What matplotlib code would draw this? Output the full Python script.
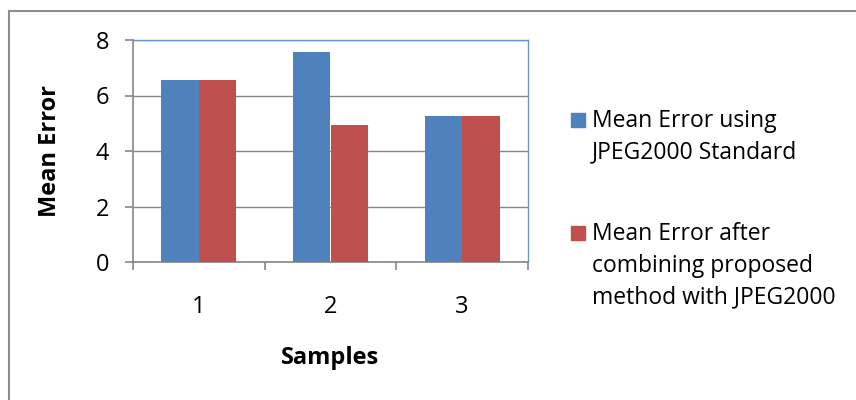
import matplotlib
matplotlib.use("Agg")
import matplotlib.pyplot as plt
from matplotlib.patches import Rectangle
import numpy as np

samples = ["1", "2", "3"]
series_names = [["Mean Error using", "JPEG2000 Standard"],
                ["Mean Error after", "combining proposed", "method with JPEG2000"]]
err_jpeg2000 = [6.56, 7.57, 5.25]
err_combined = [6.56, 4.93, 5.25]
yticks = [0, 2, 4, 6, 8]

blue = "#4F81BD"
red = "#C0504D"
grey = "#868686"

plt.rcParams['font.family'] = ['Open Sans', 'DejaVu Sans']

W, H = 856, 400
fig = plt.figure(figsize=(W / 100, H / 100), dpi=100)
ax = fig.add_axes([133 / W, 1 - 262 / H, (528 - 133) / W, (262 - 40) / H])

x = np.arange(len(samples))
w = 1 / 3.5
ax.bar(x - w / 2, err_jpeg2000, w, color=blue, zorder=3)
ax.bar(x + w / 2, err_combined, w, color=red, zorder=3)

ax.set_xlim(-0.5, len(samples) - 0.5)
ax.set_ylim(0, 8)
ax.set_yticks(yticks)
ax.yaxis.grid(True, color=grey, linewidth=1.0, zorder=0)
ax.set_axisbelow(True)

ax.set_xticks(x)
ax.set_xticklabels(samples)
ax.set_xticks(np.arange(-0.5, len(samples)), minor=True)
ax.tick_params(axis='x', which='major', length=0, pad=24, labelsize=17)
ax.tick_params(axis='x', which='minor', length=6, width=1.2, color=grey, direction='out')
ax.tick_params(axis='y', length=6, width=1.2, color=grey, direction='out', pad=11, labelsize=17)

for s in ['left', 'bottom']:
    ax.spines[s].set_color(grey)
    ax.spines[s].set_linewidth(1.2)
for s in ['top', 'right']:
    ax.spines[s].set_color("#6A96CC")
    ax.spines[s].set_linewidth(1.0)

fig.text(50 / W, 1 - 151 / H, "Mean Error", rotation=90, ha='center', va='center',
         fontsize=17, fontweight='bold')
fig.text(330 / W, 1 - 358 / H, "Samples", ha='center', va='center',
         fontsize=17, fontweight='bold')

# legend drawn by hand so the square sits on the first line
legend_base = [127, 240]
for lines, col, base in zip(series_names, [blue, red], legend_base):
    fig.patches.append(Rectangle((571 / W, 1 - base / H), 14 / W, 14 / H,
                                 transform=fig.transFigure, color=col))
    for i, line in enumerate(lines):
        fig.text(592 / W, 1 - (base + 31.5 * i) / H, line, ha='left', va='baseline',
                 fontsize=16.5)

# outer chart border
fig.patches.append(Rectangle((9 / W, -0.1), 1.2, 1.1 - 10.5 / H, transform=fig.transFigure,
                             fill=False, edgecolor="#8C8C8C", linewidth=1.5))

fig.savefig("out.png", dpi=100)
